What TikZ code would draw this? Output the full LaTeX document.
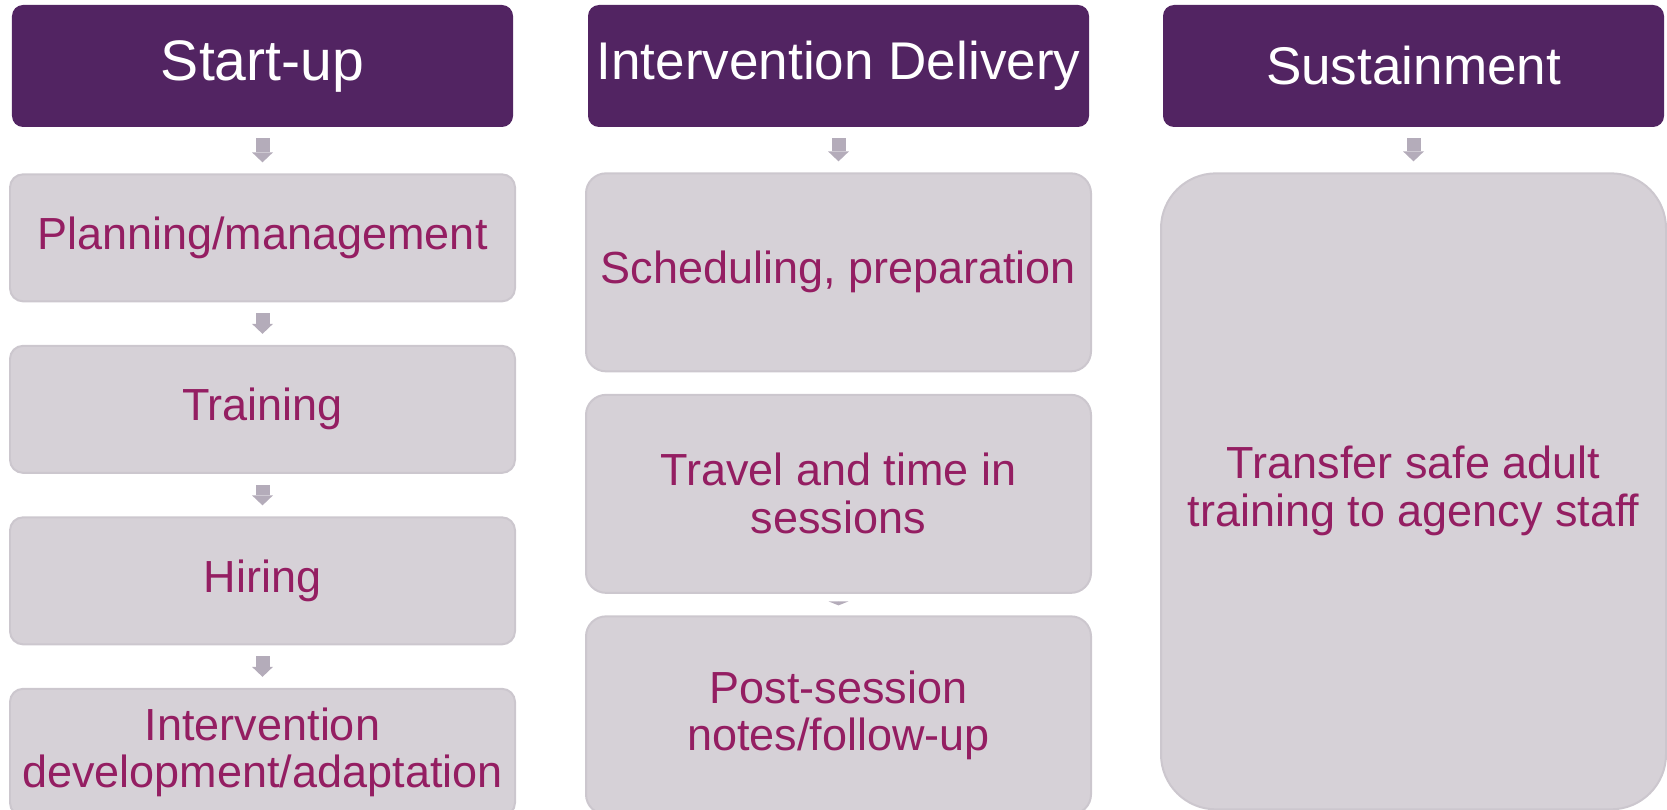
\documentclass[tikz,border=0pt]{standalone}
\usepackage{fontspec}
\setmainfont{Liberation Sans}
\usetikzlibrary{arrows.meta, positioning}
\usepackage{xcolor}
\definecolor{headpurple}{RGB}{82,36,98}
\definecolor{taskgray}{RGB}{214,209,215}
\definecolor{taskedge}{RGB}{204,199,206}
\definecolor{taskpink}{RGB}{148,30,98}
\definecolor{arrowgray}{RGB}{180,172,186}

\begin{document}
\begin{tikzpicture}[ node distance=0.85cm,
head/.style={fill=headpurple,
rounded corners=0.22cm,
minimum width=10.02cm,
minimum height=2.44cm,
inner sep=0pt,
text=white,
font=\fontsize{30.2}{32}\selectfont},
task/.style={fill=taskgray,
draw=taskedge,
line width=0.04cm,
rounded corners=0.26cm,
minimum width=10.1cm,
minimum height=2.54cm,
inner sep=0.05cm,
align=center,
text=taskpink,
font=\fontsize{25.6}{27.3}\selectfont},
arrow/.style={-{Triangle[width=0.42cm, length=0.2cm, line width=0pt]}, line width=0.28cm, draw=arrowgray, shorten <=0.22cm, shorten >=0.22cm}
]
\useasboundingbox (0,0) rectangle (33.34,-16.2);

% column headers
\node[head, font=\fontsize{32.5}{34}\selectfont] (start) at (5.25,-1.32) {Start-up};
\node[head] (deliv) at (16.77,-1.32) {Intervention Delivery};
\node[head] (sustain) at (28.27,-1.32) {Sustainment};

% start-up steps
\node[task, below=0.92cm of start] (plan) {Planning/management};
\node[task, below=of plan] (train) {Training};
\node[task, below=of train] (hire) {Hiring};
\node[task, below=of hire] (adapt) {Intervention\\development/adaptation};

% delivery steps
\node[task, below=0.9cm of deliv, minimum height=3.96cm, rounded corners=0.4cm] (sched) {Scheduling, preparation};
\node[task, below=0.43cm of sched, minimum height=3.96cm, rounded corners=0.4cm] (travel) {Travel and time in\\sessions};
\node[task, below=0.43cm of travel, minimum height=3.96cm, rounded corners=0.4cm] (post) {Post-session\\notes/follow-up};

% sustainment
\node[task, below=0.9cm of sustain, minimum height=12.72cm, rounded corners=1.1cm] (transfer) {Transfer safe adult\\training to agency staff};

\draw[arrow] (start) -- (plan);
\draw[arrow] (plan) -- (train);
\draw[arrow] (train) -- (hire);
\draw[arrow] (hire) -- (adapt);
\draw[arrow] (deliv) -- (sched);
\draw[arrow, -{Triangle[width=0.4cm, length=0.08cm, line width=0pt]}, line width=0.01cm, shorten <=0.15cm, shorten >=0.2cm] (travel) -- (post);
\draw[arrow] (sustain) -- (transfer);

\end{tikzpicture}
\end{document}
